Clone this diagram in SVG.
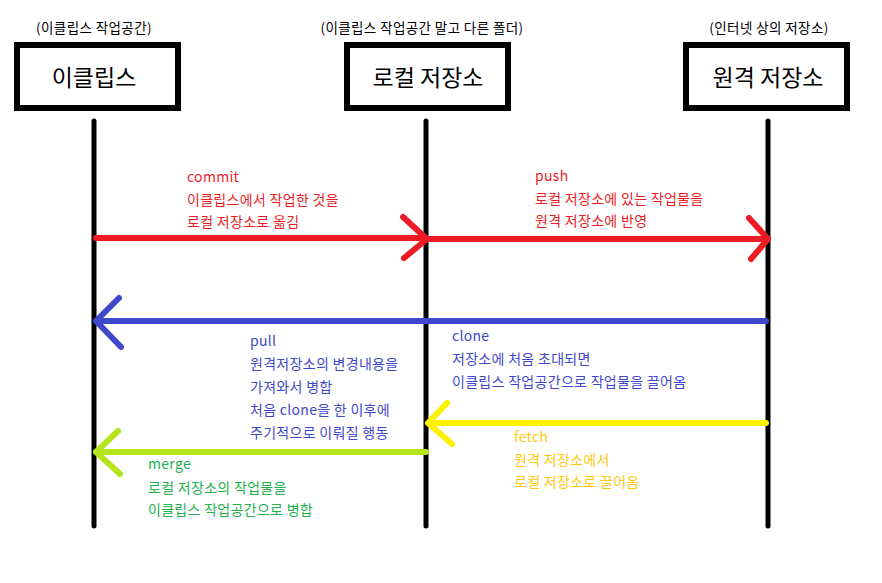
<svg xmlns="http://www.w3.org/2000/svg" width="882" height="583" viewBox="0 0 882 583">
<style>
text{font-family:"Noto Sans CJK KR","Noto Sans",sans-serif}
.box{fill:#fff;stroke:#000;stroke-width:6}
.life{stroke:#000;stroke-width:5;stroke-linecap:round}
.title{font-size:23px;fill:#000;text-anchor:middle}
.cap{font-size:13.5px;letter-spacing:0.4px;fill:#000;text-anchor:middle}
.lbl{font-size:14px;letter-spacing:0.3px}
.arr{fill:none;stroke-width:6;stroke-linecap:round;stroke-linejoin:round}
</style>
<rect width="882" height="583" fill="#fff"/>
<g id="eclipse">
<text class="cap" x="94" y="33">(이클립스 작업공간)</text>
<rect class="box" x="17" y="45" width="161" height="63"/>
<text class="title" x="94" y="86">이클립스</text>
<line class="life" x1="94" y1="121" x2="94" y2="526"/>
</g>
<g id="local">
<text class="cap" x="422" y="33">(이클립스 작업공간 말고 다른 폴더)</text>
<rect class="box" x="347" y="45" width="161" height="63"/>
<text class="title" x="428" y="86">로컬 저장소</text>
<line class="life" x1="426" y1="121" x2="426" y2="526"/>
</g>
<g id="remote">
<text class="cap" x="769" y="33">(인터넷 상의 저장소)</text>
<rect class="box" x="686" y="45" width="161" height="63"/>
<text class="title" x="768" y="86">원격 저장소</text>
<line class="life" x1="768" y1="121" x2="768" y2="526"/>
</g>
<g id="connectors">
<g stroke="#ed1c24" class="arr">
<line x1="96" y1="238" x2="426" y2="238"/>
<polyline points="403,217 427,239 404,258"/>
<line x1="426" y1="239" x2="768" y2="239"/>
<polyline points="749,218 768,239 751,259"/>
</g>
<g stroke="#3f48cc" class="arr">
<line x1="766" y1="321" x2="96" y2="321"/>
<polyline points="119,298 96,321 121,347"/>
</g>
<g stroke="#fff200" class="arr">
<line x1="766" y1="423" x2="430" y2="423"/>
<polyline points="447,403 428,423 452,444"/>
</g>
<g stroke="#b5e61d" class="arr">
<line x1="426" y1="452" x2="96" y2="452"/>
<polyline points="118,431 96,452 120,474"/>
</g>
</g>
<g id="labels">
<g class="lbl" fill="#ed1c24">
<text x="187" y="182">commit</text>
<text x="187" y="205">이클립스에서 작업한 것을</text>
<text x="187" y="227">로컬 저장소로 옮김</text>
<text x="535" y="181">push</text>
<text x="535" y="204">로컬 저장소에 있는 작업물을</text>
<text x="535" y="226">원격 저장소에 반영</text>
</g>
<g class="lbl" fill="#3f48cc">
<text x="250" y="346">pull</text>
<text x="250" y="369">원격저장소의 변경내용을</text>
<text x="250" y="392">가져와서 병합</text>
<text x="250" y="415">처음 clone을 한 이후에</text>
<text x="250" y="438">주기적으로 이뤄질 행동</text>
<text x="452" y="341">clone</text>
<text x="452" y="364">저장소에 처음 초대되면</text>
<text x="452" y="387">이클립스 작업공간으로 작업물을 끌어옴</text>
</g>
<g class="lbl" fill="#ffc90e">
<text x="514" y="442">fetch</text>
<text x="514" y="465">원격 저장소에서</text>
<text x="514" y="487">로컬 저장소로 끌어옴</text>
</g>
<g class="lbl" fill="#22b14c">
<text x="148" y="469">merge</text>
<text x="148" y="493">로컬 저장소의 작업물을</text>
<text x="148" y="515">이클립스 작업공간으로 병합</text>
</g>
</g>
</svg>
